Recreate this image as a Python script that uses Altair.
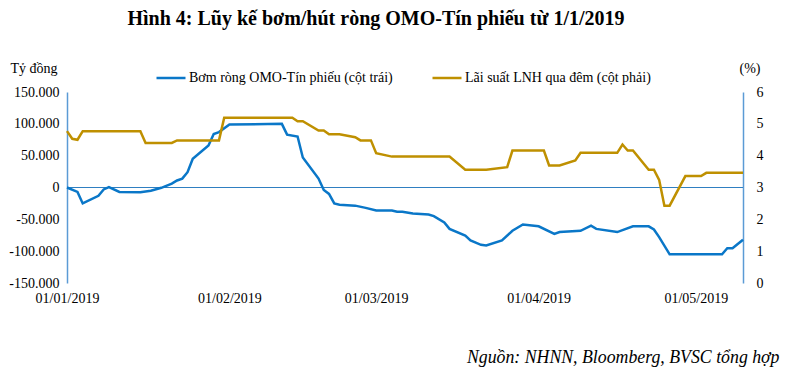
import altair as alt
import pandas as pd

# ---- data ----
omo_dates = [
    "2019-01-01", "2019-01-03", "2019-01-04", "2019-01-07", "2019-01-08", "2019-01-09",
    "2019-01-11", "2019-01-15", "2019-01-17", "2019-01-19", "2019-01-21", "2019-01-22",
    "2019-01-23", "2019-01-24", "2019-01-25", "2019-01-28", "2019-01-29", "2019-01-30",
    "2019-02-01", "2019-02-11", "2019-02-12", "2019-02-14", "2019-02-15", "2019-02-18",
    "2019-02-19", "2019-02-20", "2019-02-21", "2019-02-22", "2019-02-25", "2019-02-27",
    "2019-03-01", "2019-03-04", "2019-03-05", "2019-03-06", "2019-03-08", "2019-03-11",
    "2019-03-12", "2019-03-14", "2019-03-15", "2019-03-18", "2019-03-19", "2019-03-21",
    "2019-03-22", "2019-03-25", "2019-03-27", "2019-03-29", "2019-04-01", "2019-04-04",
    "2019-04-05", "2019-04-09", "2019-04-11", "2019-04-12", "2019-04-16", "2019-04-19",
    "2019-04-22", "2019-04-23", "2019-04-24", "2019-04-26", "2019-05-06", "2019-05-07",
    "2019-05-08", "2019-05-10",
]
omo_values = [
    0, -7000, -25000, -13000, -3000, 500,
    -7000, -7500, -5000, -500, 6000, 11000,
    14000, 24000, 45000, 66000, 84000, 87000,
    99000, 100000, 83000, 80000, 47000, 14000,
    -4000, -10000, -25000, -27000, -28500, -32000,
    -36000, -36000, -38000, -38000, -41000, -42500,
    -45000, -55000, -65000, -75500, -83000, -90000,
    -91000, -83000, -68000, -58000, -61000, -73000,
    -70000, -68000, -60000, -65000, -70000, -61000,
    -61000, -66000, -78000, -105000, -105000, -95500,
    -95500, -82000,
]

rate_dates = [
    "2019-01-01", "2019-01-02", "2019-01-03", "2019-01-04", "2019-01-15", "2019-01-16",
    "2019-01-21", "2019-01-22", "2019-01-30", "2019-01-31", "2019-02-13", "2019-02-14",
    "2019-02-15", "2019-02-18", "2019-02-19", "2019-02-20", "2019-02-22", "2019-02-25",
    "2019-02-26", "2019-02-28", "2019-03-01", "2019-03-04", "2019-03-15", "2019-03-18",
    "2019-03-22", "2019-03-26", "2019-03-27", "2019-04-02", "2019-04-03", "2019-04-05",
    "2019-04-08", "2019-04-09", "2019-04-16", "2019-04-17", "2019-04-18", "2019-04-19",
    "2019-04-22", "2019-04-23", "2019-04-24", "2019-04-25", "2019-04-26", "2019-04-29",
    "2019-05-02", "2019-05-03", "2019-05-10",
]
rate_values = [
    4.77, 4.53, 4.50, 4.77, 4.77, 4.40,
    4.40, 4.48, 4.48, 5.19, 5.19, 5.08,
    5.08, 4.79, 4.79, 4.67, 4.67, 4.58,
    4.48, 4.48, 4.08, 3.97, 3.97, 3.56,
    3.56, 3.64, 4.16, 4.16, 3.69, 3.69,
    3.85, 4.09, 4.09, 4.35, 4.16, 4.16,
    3.56, 3.56, 3.24, 2.43, 2.43, 3.36,
    3.36, 3.46, 3.46,
]

series_names = ["Bơm ròng OMO-Tín  phiếu (cột trái)", "Lãi suất LNH  qua đêm (cột phải)"]
series_colors = ["#0A77C8", "#BF9000"]

left_ticks = [-150000, -100000, -50000, 0, 50000, 100000, 150000]
right_ticks = [0, 1, 2, 3, 4, 5, 6]
month_ticks = [alt.DateTime(year=2019, month=m, date=1) for m in [1, 2, 3, 4, 5]]

title_text = "Hình 4: Lũy kế bơm/hút ròng OMO-Tín phiếu từ 1/1/2019"
source_text = "Nguồn: NHNN, Bloomberg, BVSC tổng hợp"

# ---- tables ----
omo_df = pd.DataFrame({"date": pd.to_datetime(omo_dates), "value": omo_values,
                       "series": series_names[0]})
rate_df = pd.DataFrame({"date": pd.to_datetime(rate_dates), "value": rate_values,
                        "series": series_names[1]})
zero_df = pd.DataFrame({"value": [0]})

FONT = "Liberation Serif"
AXIS_BLUE = "#5B9BD5"

x_enc = alt.X(
    "date:T",
    scale=alt.Scale(domain=[alt.DateTime(year=2019, month=1, date=1),
                            alt.DateTime(year=2019, month=5, date=10)]),
    axis=alt.Axis(
        values=month_ticks, format="%d/%m/%Y", domain=False, ticks=False, grid=False,
        labelFlush=False, labelOverlap=False, labelPadding=8,
        labelFont=FONT, labelFontSize=14, labelColor="#000",
        title=source_text, titleFont=FONT, titleFontSize=17.8, titleFontStyle="italic",
        titleFontWeight="normal", titleColor="#000", titleAlign="right", titleAnchor="end",
        titleX=712, titleY=74, titleBaseline="middle",
    ),
)

color_enc = alt.Color(
    "series:N",
    scale=alt.Scale(domain=series_names, range=series_colors),
    legend=alt.Legend(
        orient="none", direction="horizontal", legendX=88, legendY=-30, title=None,
        symbolType="stroke", symbolSize=841, symbolStrokeWidth=2.5,
        labelFont=FONT, labelFontSize=14, labelColor="#000", labelOffset=2,
        columnPadding=30, padding=0, labelLimit=400,
    ),
)

left_axis = alt.Axis(
    orient="left", values=left_ticks, grid=False, ticks=False,
    domainColor=AXIS_BLUE, domainWidth=1.5, labelPadding=8,
    labelFont=FONT, labelFontSize=14, labelColor="#000",
    labelExpr="(datum.value < 0 ? '-' : '') + replace(format(abs(datum.value), ','), ',', '.')",
    title="Tỷ đồng", titleAngle=0, titleX=-57, titleY=-24, titleAlign="left",
    titleBaseline="middle", titleFont=FONT, titleFontSize=14,
    titleFontWeight="normal", titleColor="#000",
)
left_scale = alt.Scale(domain=[-150000, 150000], nice=False)

zero_rule = alt.Chart(zero_df).mark_rule(color="#2F7FC1", strokeWidth=1.2).encode(
    y=alt.Y("value:Q", scale=left_scale, axis=left_axis)
)

omo_line = alt.Chart(omo_df).mark_line(strokeWidth=2.5).encode(
    x=x_enc,
    y=alt.Y("value:Q", scale=left_scale, axis=left_axis),
    color=color_enc,
)

rate_line = alt.Chart(rate_df).mark_line(strokeWidth=2.5).encode(
    x=x_enc,
    y=alt.Y(
        "value:Q",
        scale=alt.Scale(domain=[0, 6], nice=False),
        axis=alt.Axis(
            orient="right", values=right_ticks, grid=False, ticks=False,
            domainColor=AXIS_BLUE, domainWidth=1.5, labelPadding=13,
            labelFont=FONT, labelFontSize=14, labelColor="#000",
            title="(%)", titleAngle=0, titleX=-4, titleY=-24, titleAlign="left",
            titleBaseline="middle", titleFont=FONT, titleFontSize=14,
            titleFontWeight="normal", titleColor="#000",
        ),
    ),
    color=color_enc,
)

left_layer = alt.layer(zero_rule, omo_line)

chart = alt.layer(left_layer, rate_line).resolve_scale(y="independent").properties(
    width=676,
    height=191,
    autosize=alt.AutoSizeParams(type="none"),
    padding={"left": 59, "top": 84, "right": 45, "bottom": 85},
    title=alt.TitleParams(
        text=title_text, font=FONT, fontSize=20, fontWeight="bold", color="#000",
        anchor="middle", frame="group", dx=-29, offset=32,
    ),
).configure_view(stroke=None)

chart.save("out.html", embed_options={"renderer": "svg", "actions": False})
